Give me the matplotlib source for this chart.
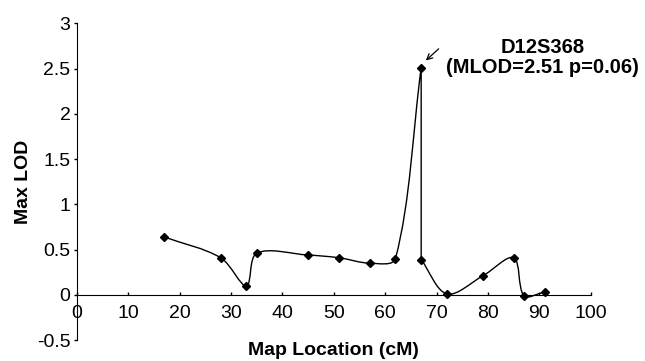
import numpy as np
import matplotlib
matplotlib.use("Agg")
import matplotlib.pyplot as plt
from matplotlib.path import Path
from matplotlib.patches import PathPatch

plt.rcParams['font.family'] = ['Liberation Sans', 'DejaVu Sans']

# marker positions
map_cm = [17, 28, 33, 35, 45, 51, 57, 62, 67, 67, 72, 79, 85, 87, 91]
max_lod = [0.64, 0.41, 0.10, 0.46, 0.44, 0.41, 0.35, 0.40, 2.51, 0.39, 0.01, 0.21, 0.41, -0.01, 0.03]

x_ticks = [0, 10, 20, 30, 40, 50, 60, 70, 80, 90, 100]
y_ticks = [-0.5, 0, 0.5, 1, 1.5, 2, 2.5, 3]
peak_label = "D12S368\n(MLOD=2.51 p=0.06)"


def smooth_path(xs, ys, sx=5.14, sy=90.4):
    # excel-like smoothed line: bezier handles scaled by segment length (in screen units),
    # vertical steps kept straight
    pts = np.column_stack([np.asarray(xs) * sx, np.asarray(ys) * sy]).astype(float)
    n = len(pts)
    seg = np.linalg.norm(np.diff(pts, axis=0), axis=1)

    def handles(i):
        # returns (backward handle, forward handle) at point i
        vert_prev = i > 0 and pts[i, 0] == pts[i - 1, 0]
        vert_next = i < n - 1 and pts[i, 0] == pts[i + 1, 0]
        if i == 0:
            d = (pts[1] - pts[0]) / 3
            return d, d
        if i == n - 1:
            d = (pts[i] - pts[i - 1]) / 3
            return d, d
        if vert_next:
            d = (pts[i] - pts[i - 1]) / 3
            return d, d
        if vert_prev:
            d = (pts[i + 1] - pts[i]) / 3
            return d, d
        t = pts[i + 1] - pts[i - 1]
        tot = seg[i - 1] + seg[i]
        return t * seg[i - 1] / tot / 3, t * seg[i] / tot / 3

    verts = [pts[0]]
    codes = [Path.MOVETO]
    for i in range(n - 1):
        if pts[i, 0] == pts[i + 1, 0]:
            verts.append(pts[i + 1])
            codes.append(Path.LINETO)
            continue
        c1 = pts[i] + handles(i)[1]
        c2 = pts[i + 1] - handles(i + 1)[0]
        verts += [c1, c2, pts[i + 1]]
        codes += [Path.CURVE4] * 3
    verts = np.array(verts) / [sx, sy]
    return Path(verts, codes)


fig = plt.figure(figsize=(6.45, 3.61), dpi=100)
ax = fig.add_axes([0.119, 0.058, 0.797, 0.877])

ax.add_patch(PathPatch(smooth_path(map_cm, max_lod), fill=False, lw=1.0, color='black'))
ax.plot(map_cm, max_lod, linestyle='none', marker='D', markersize=4, color='black')

ax.set_xlim(0, 100)
ax.set_ylim(-0.5, 3)
ax.set_xticks(x_ticks)
ax.set_yticks(y_ticks)
ax.set_yticklabels([f"{v:g}" for v in y_ticks])

ax.spines['top'].set_visible(False)
ax.spines['right'].set_visible(False)
ax.spines['left'].set_position(('data', 0))
ax.spines['bottom'].set_position(('data', 0))
ax.tick_params(axis='x', direction='in', length=2.5, width=1, labelsize=14, pad=7)
ax.tick_params(axis='y', direction='out', length=2.5, width=1, labelsize=14, pad=2)

ax.set_xlabel('Map Location (cM)', fontsize=14, fontweight='bold')
ax.xaxis.set_label_coords(0.5, -0.005)
ax.set_ylabel('Max LOD', fontsize=14, fontweight='bold')
ax.yaxis.set_label_coords(-0.088, 0.5)

ax.annotate('', xy=(67.5, 2.57), xytext=(70.8, 2.74),
            arrowprops=dict(arrowstyle='->', lw=0.9, color='black'))
ax.text(90.6, 2.62, peak_label, ha='center', va='center',
        fontsize=14.5, fontweight='bold', linespacing=1.05)

fig.savefig('out.png', dpi=100)
